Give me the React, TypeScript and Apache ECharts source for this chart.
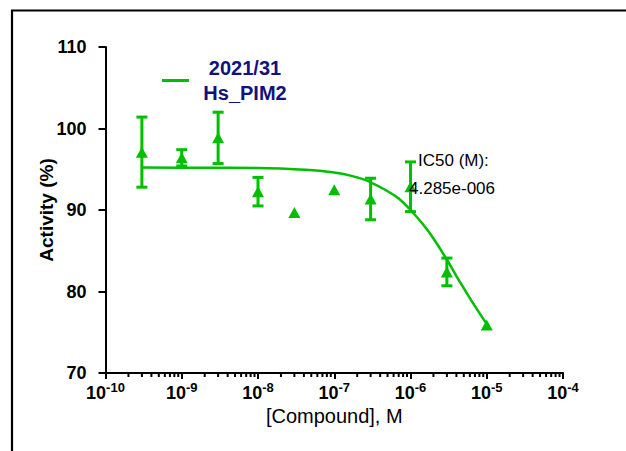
import React, { useEffect, useRef } from 'react';
import * as echarts from 'echarts';

// Measured points: concentration (M), mean activity (%), SD (%)
const concentrations = [3e-10, 1e-9, 3e-9, 1e-8, 3e-8, 1e-7, 3e-7, 1e-6, 3e-6, 1e-5];
const activityMean = [97.1, 96.4, 98.85, 92.25, 89.7, 92.5, 91.35, 92.85, 82.4, 75.9];
const activityErr = [4.3, 1.0, 3.15, 1.75, 0, 0, 2.55, 3.05, 1.7, 0];

// Fitted curve
const fitX = [3e-10, 1e-9, 3e-9, 1e-8, 3e-8, 1e-7, 2e-7, 3e-7, 5e-7, 7e-7, 1e-6, 1.5e-6, 2e-6, 3e-6, 4e-6, 5e-6, 7e-6, 1e-5];
const fitY = [95.2, 95.19, 95.18, 95.14, 95.0, 94.6, 94.0, 93.4, 92.3, 91.4, 90.0, 88.1, 86.5, 83.9, 81.9, 80.4, 78.2, 76.0];

const yTicks = [70, 80, 90, 100, 110];
const xDecades = [-10, -9, -8, -7, -6, -5];
const minorMultipliers = [2, 3, 4, 5, 6, 7, 8, 9];

const seriesName = '2021/31\nHs_PIM2';
const ic50Lines = ['IC50 (M):', '4.285e-006'];

const GREEN = '#00BE00';
const NAVY = '#12127E';
const FONT = '"Liberation Sans", Arial, sans-serif';

export default function App() {
  const ref = useRef<HTMLDivElement>(null);

  useEffect(() => {
    if (!ref.current) return;
    const chart = echarts.init(ref.current, undefined, { renderer: 'svg' });

    const minorTicks: number[][] = [];
    xDecades.forEach((e) => {
      minorMultipliers.forEach((k) => {
        minorTicks.push([k * Math.pow(10, e), yTicks[0]]);
      });
    });

    const scatterData = concentrations.map((c, i) => [c, activityMean[i]]);
    const errData = concentrations.map((c, i) => [c, activityMean[i] - activityErr[i], activityMean[i] + activityErr[i]]);
    const fitData = fitX.map((x, i) => [x, fitY[i]]);

    chart.setOption({
      animation: false,
      backgroundColor: '#ffffff',
      grid: { left: 105.5, top: 47, right: 63, bottom: 78, containLabel: false },
      legend: {
        show: true,
        left: 157,
        top: 53,
        itemWidth: 27,
        itemHeight: 3,
        data: [{ name: seriesName, icon: 'rect' }],
        itemStyle: { color: GREEN },
        formatter: (name: string) => name.split('\n').map((s) => `{a|${s}}`).join('\n'),
        textStyle: {
          rich: {
            a: {
              width: 102,
              align: 'center',
              fontSize: 20,
              fontWeight: 'bold',
              color: NAVY,
              lineHeight: 25,
              fontFamily: FONT,
            },
          },
        },
      },
      xAxis: {
        type: 'log',
        logBase: 10,
        min: 1e-10,
        max: 1e-4,
        splitNumber: 6,
        name: '[Compound], M',
        nameLocation: 'middle',
        nameGap: 33,
        nameMoveOverlap: false,
        nameTextStyle: { fontSize: 20, color: '#000', fontFamily: FONT },
        axisLine: { show: true, onZero: false, lineStyle: { color: '#000', width: 2 } },
        axisTick: { show: true, inside: false, length: 6, lineStyle: { color: '#000', width: 2 } },
        splitLine: { show: false },
        axisLabel: {
          margin: 8,
          formatter: (v: number) => `{b|10}{s|${Math.round(Math.log10(v))}}`,
          rich: {
            b: { fontSize: 18, fontWeight: 'bold', color: '#000', fontFamily: FONT, lineHeight: 21, verticalAlign: 'bottom' },
            s: { fontSize: 13, fontWeight: 'bold', color: '#000', fontFamily: FONT, lineHeight: 13, verticalAlign: 'top' },
          },
        },
      },
      yAxis: {
        type: 'value',
        min: 70,
        max: 110,
        interval: 10,
        name: 'Activity (%)',
        nameLocation: 'middle',
        nameGap: 50,
        nameMoveOverlap: false,
        nameTextStyle: { fontSize: 19, fontWeight: 'bold', color: '#000', fontFamily: FONT },
        axisLine: { show: true, lineStyle: { color: '#000', width: 2 } },
        axisTick: { show: true, inside: false, length: 7, lineStyle: { color: '#000', width: 2 } },
        splitLine: { show: false },
        axisLabel: { margin: 19, fontSize: 18, fontWeight: 'bold', color: '#000', fontFamily: FONT },
      },
      graphic: [
        {
          type: 'rect',
          x: 12,
          y: 10.5,
          shape: { x: 0, y: 0, width: 800, height: 600 },
          style: { fill: 'none', stroke: '#000', lineWidth: 2.2 },
          silent: true,
          z: 100,
        },
        {
          type: 'text',
          x: 418,
          y: 160,
          style: { text: ic50Lines[0], fontSize: 17, fontFamily: FONT, fill: '#000', verticalAlign: 'middle' },
          z: 100,
        },
        {
          type: 'text',
          x: 409,
          y: 188,
          style: { text: ic50Lines[1], fontSize: 17, fontFamily: FONT, fill: '#000', verticalAlign: 'middle' },
          z: 100,
        },
      ],
      series: [
        {
          name: 'minor ticks',
          type: 'custom',
          silent: true,
          clip: false,
          data: minorTicks,
          renderItem: (params: any, api: any) => {
            const p = api.coord([api.value(0), api.value(1)]);
            return {
              type: 'line',
              shape: { x1: p[0], y1: p[1], x2: p[0], y2: p[1] + 4 },
              style: { stroke: '#000', lineWidth: 2 },
            };
          },
          z: 3,
        },
        {
          name: seriesName,
          type: 'line',
          data: fitData,
          smooth: true,
          symbol: 'none',
          showSymbol: false,
          lineStyle: { color: GREEN, width: 2.5 },
          itemStyle: { color: GREEN },
          z: 2,
        },
        {
          name: 'error bars',
          type: 'custom',
          data: errData,
          clip: false,
          renderItem: (params: any, api: any) => {
            const x = api.value(0);
            const lo = api.value(1);
            const hi = api.value(2);
            if (hi - lo < 1e-9) return { type: 'group', children: [] };
            const top = api.coord([x, hi]);
            const bot = api.coord([x, lo]);
            const hw = 5.5;
            const st = { stroke: GREEN, lineWidth: 3 };
            return {
              type: 'group',
              children: [
                { type: 'line', shape: { x1: top[0], y1: top[1], x2: bot[0], y2: bot[1] }, style: st },
                { type: 'line', shape: { x1: top[0] - hw, y1: top[1], x2: top[0] + hw, y2: top[1] }, style: st },
                { type: 'line', shape: { x1: bot[0] - hw, y1: bot[1], x2: bot[0] + hw, y2: bot[1] }, style: st },
              ],
            };
          },
          z: 3,
        },
        {
          name: 'Activity',
          type: 'scatter',
          data: scatterData,
          symbol: 'triangle',
          symbolSize: [12, 11],
          itemStyle: { color: GREEN, opacity: 1 },
          z: 4,
        },
      ],
    });

    return () => chart.dispose();
  }, []);

  return (
    <div
      ref={ref}
      style={{ position: 'fixed', left: 0, top: 0, width: 626, height: 451, background: '#fff' }}
    />
  );
}
